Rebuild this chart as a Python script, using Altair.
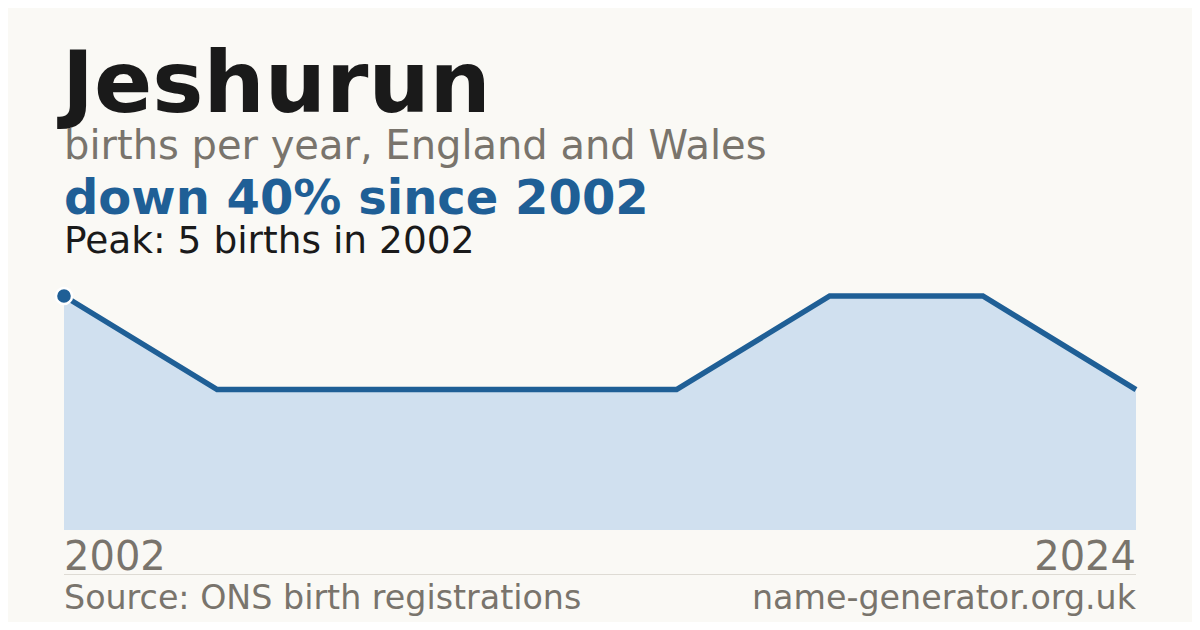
import altair as alt
import pandas as pd

# ---- data ----
point_index = [0, 1, 2, 3, 4, 5, 6, 7]
births = [5, 3, 3, 3, 3, 5, 5, 3]
end_labels = ["2002", "", "", "", "", "", "", "2024"]

title_text = "Jeshurun"
subtitle_text = "births per year, England and Wales"
change_text = "down 40% since 2002"
peak_text = "Peak: 5 births in 2002"
source_text = "Source: ONS birth registrations"
site_text = "name-generator.org.uk"

df = pd.DataFrame({"i": point_index, "births": births, "label": end_labels})

BLUE = "#1f5f96"
FILL = "#d0e0ef"
GRAY = "#79746c"
DARK = "#1a1a1a"
BG = "#faf9f5"
FONT = "DejaVu Sans"

W, H = 1072, 234

xs = alt.Scale(domain=[0, 7], nice=False, zero=False)
ys = alt.Scale(domain=[0, 5], nice=False)

base = alt.Chart(df)

area = base.mark_area(color=FILL, opacity=1).encode(
    x=alt.X("i:Q", scale=xs, axis=None),
    y=alt.Y("births:Q", scale=ys, axis=None),
)
line = base.mark_line(color=BLUE, strokeWidth=5.5).encode(
    x=alt.X("i:Q", scale=xs, axis=None),
    y=alt.Y("births:Q", scale=ys, axis=None),
)
peak_point = base.transform_filter(alt.datum.i == 0).mark_point(
    filled=True, color=BLUE, size=260, stroke="white", strokeWidth=2.5, opacity=1
).encode(
    x=alt.X("i:Q", scale=xs, axis=None),
    y=alt.Y("births:Q", scale=ys, axis=None),
)

label_left = base.transform_filter(alt.datum.i == 0).mark_text(
    align="left", baseline="alphabetic", font=FONT, fontSize=40, color=GRAY
).encode(x=alt.X("i:Q", scale=xs, axis=None), y=alt.value(274), text="label:N")
label_right = base.transform_filter(alt.datum.i == 7).mark_text(
    align="right", baseline="alphabetic", font=FONT, fontSize=40, color=GRAY
).encode(x=alt.X("i:Q", scale=xs, axis=None), y=alt.value(274), text="label:N")

one = pd.DataFrame({"k": [0]})

def txt(t, x, y, size, color, weight="normal", align="left"):
    return alt.Chart(one).mark_text(
        text=t, align=align, baseline="alphabetic", font=FONT,
        fontSize=size, fontWeight=weight, color=color
    ).encode(x=alt.value(x), y=alt.value(y))

rule = alt.Chart(one).mark_rule(color="#dedbd4", strokeWidth=1).encode(
    x=alt.value(0), x2=alt.value(W), y=alt.value(278.5)
)

chart = alt.layer(
    area, line, peak_point, label_left, label_right, rule,
    txt(title_text, -2, -184, 86, DARK, "bold"),
    txt(subtitle_text, 0, -137, 40, GRAY),
    txt(change_text, 0, -82, 48, BLUE, "bold"),
    txt(peak_text, 0, -43, 37.5, DARK),
    txt(source_text, 0, 313, 33.3, GRAY),
    txt(site_text, W, 313, 33.3, GRAY, align="right"),
).properties(
    width=W, height=H,
    background=BG,
    padding={"left": 56, "top": 288, "right": 56, "bottom": 92},
    autosize=alt.AutoSizeParams(type="none"),
).configure_view(stroke=None)

chart.save("out.html", embed_options={"renderer": "svg", "actions": False})
